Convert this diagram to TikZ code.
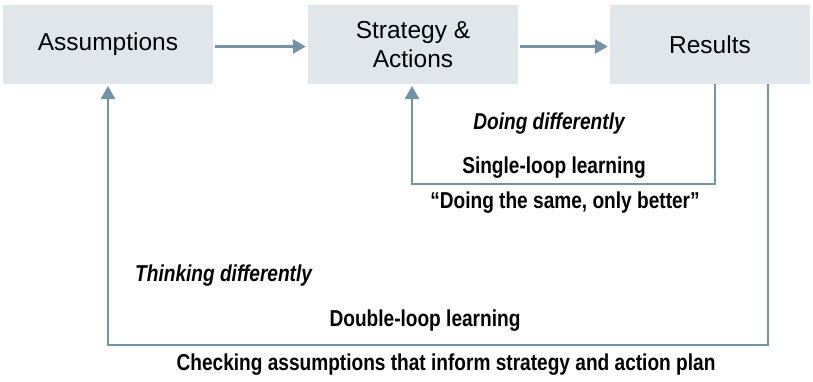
\documentclass[tikz,border=0pt]{standalone}
\usepackage{fontspec}
\setmainfont{Liberation Sans}
\newfontfamily\labfont{Liberation Sans}[FakeStretch=0.83]
\usetikzlibrary{arrows.meta,calc}
\definecolor{boxfill}{HTML}{E0E6EA}
\definecolor{linecol}{HTML}{7393A7}
\tikzset{
  box/.style={fill=boxfill, draw=none, inner sep=0pt, align=center, minimum height=79pt, font=\fontsize{24.5}{29.5}\selectfont},
  conn/.style={draw=linecol, line width=2.6pt, -{Triangle[length=13pt,width=14pt]}},
  lab/.style={font=\labfont\bfseries\fontsize{23}{27}\selectfont, inner sep=0pt},
  ilab/.style={font=\labfont\bfseries\itshape\fontsize{23}{27}\selectfont, inner sep=0pt}
}
\begin{document}
\begin{tikzpicture}[x=1pt,y=-1pt]
\useasboundingbox (0,0) rectangle (813,381);
\node[box, minimum width=210pt] (as) at (108,44.5) {Assumptions};
\node[box, minimum width=210pt] (sa) at (413,44.5) {Strategy \&\\Actions};
\node[box, minimum width=200pt] (res) at (710,44.5) {Results};
\draw[conn] ($(as.east)+(2,2)$) -- ($(sa.west)+(-2,2)$);
\draw[conn] ($(sa.east)+(2,2)$) -- ($(res.west)+(-2,2)$);
% single loop
\coordinate (s1) at (715,84);
\coordinate (s2) at (715,184);
\coordinate (s3) at (412,184);
\coordinate (s4) at (412,86);
\draw[conn] (s1) -- (s2) -- (s3) -- (s4);
% double loop
\coordinate (d1) at (768,84);
\coordinate (d2) at (768,345);
\coordinate (d3) at (108,345);
\coordinate (d4) at (108,86);
\draw[conn] (d1) -- (d2) -- (d3) -- (d4);
% labels
\node[ilab] (dd) at (549,124) {Doing differently};
\node[lab] (sl) at (554,168) {Single-loop learning};
\node[lab] (ds) at (565,203) {“Doing the same, only better”};
\node[ilab, anchor=west] (td) at (135,276) {Thinking differently};
\node[lab] (dl) at (425,321) {Double-loop learning};
\node[lab] (ca) at (446,365) {Checking assumptions that inform strategy and action plan};
\end{tikzpicture}
\end{document}
